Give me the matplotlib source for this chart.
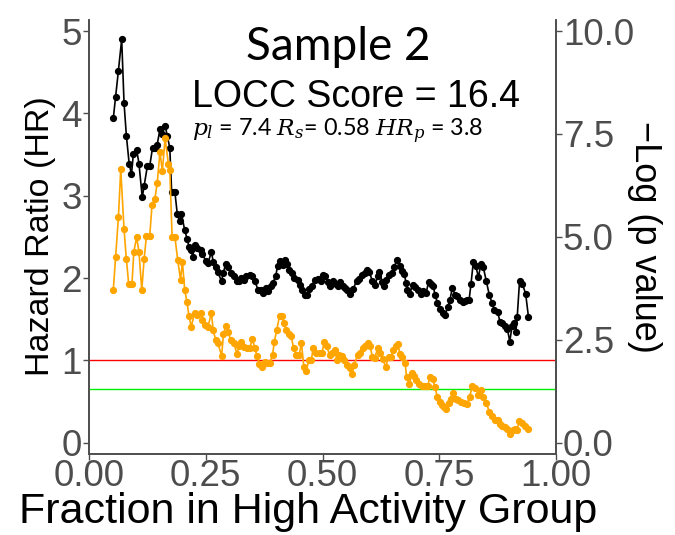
import numpy as np
import matplotlib
matplotlib.use("Agg")
import matplotlib.pyplot as plt

# hazard ratio along the cut-off (left axis)
hr_x = [0.052, 0.057, 0.063, 0.070, 0.075, 0.080, 0.086, 0.091, 0.095, 0.102,
        0.107, 0.114, 0.118, 0.125, 0.130, 0.136, 0.141, 0.146, 0.152, 0.157,
        0.163, 0.168, 0.173, 0.177, 0.184, 0.189, 0.194, 0.198, 0.205, 0.210,
        0.214, 0.219, 0.222, 0.226, 0.231, 0.239, 0.243, 0.250, 0.255, 0.262,
        0.266, 0.271, 0.276, 0.284, 0.287, 0.293, 0.298, 0.303, 0.310, 0.316,
        0.321, 0.326, 0.331, 0.337, 0.344, 0.350, 0.355, 0.362, 0.368, 0.372,
        0.378, 0.383, 0.389, 0.394, 0.400, 0.404, 0.410, 0.415, 0.419, 0.424,
        0.428, 0.435, 0.440, 0.447, 0.452, 0.457, 0.462, 0.467, 0.472, 0.478,
        0.483, 0.490, 0.497, 0.502, 0.506, 0.511, 0.516, 0.522, 0.528, 0.533,
        0.538, 0.543, 0.548, 0.552, 0.559, 0.566, 0.573, 0.579, 0.585, 0.590,
        0.595, 0.600, 0.607, 0.613, 0.618, 0.622, 0.628, 0.632, 0.637, 0.642,
        0.649, 0.654, 0.659, 0.665, 0.670, 0.675, 0.679, 0.682, 0.687, 0.693,
        0.699, 0.704, 0.711, 0.716, 0.722, 0.727, 0.732, 0.737, 0.741, 0.746,
        0.751, 0.757, 0.763, 0.768, 0.773, 0.778, 0.784, 0.789, 0.794, 0.800,
        0.805, 0.810, 0.814, 0.818, 0.823, 0.828, 0.834, 0.839, 0.844, 0.851,
        0.857, 0.863, 0.868, 0.875, 0.880, 0.885, 0.891, 0.896, 0.901, 0.906,
        0.910, 0.914, 0.917, 0.922, 0.928, 0.935, 0.941]
hr_y = [3.94, 4.20, 4.52, 4.90, 4.13, 3.73, 3.39, 3.26, 3.51, 3.56,
        3.39, 2.98, 3.12, 3.36, 3.36, 3.58, 3.58, 3.62, 3.81, 3.75,
        3.85, 3.72, 3.58, 3.04, 3.04, 2.78, 2.69, 2.78, 2.58, 2.48,
        2.38, 2.34, 2.26, 2.40, 2.36, 2.34, 2.29, 2.21, 2.18, 2.32,
        2.20, 2.14, 2.07, 1.96, 2.06, 2.17, 2.14, 2.06, 2.03, 1.97,
        1.96, 2.00, 1.98, 2.02, 2.04, 2.02, 1.96, 1.86, 1.86, 1.82,
        1.88, 1.84, 1.90, 1.94, 2.03, 2.15, 2.21, 2.16, 2.22, 2.17,
        2.10, 2.06, 2.00, 1.98, 1.92, 1.86, 1.80, 1.80, 1.87, 1.91,
        1.98, 1.99, 1.97, 2.04, 2.02, 1.95, 1.91, 1.97, 1.93, 1.90,
        1.95, 1.90, 1.88, 1.86, 1.81, 1.87, 1.97, 1.99, 2.04, 2.06,
        2.10, 2.08, 1.96, 1.92, 2.02, 2.07, 1.95, 1.90, 1.98, 2.04,
        2.06, 2.14, 2.22, 2.15, 2.09, 2.05, 1.94, 1.86, 1.81, 1.92,
        1.89, 1.85, 1.81, 1.84, 1.82, 1.95, 1.93, 1.90, 1.80, 1.70,
        1.62, 1.58, 1.55, 1.65, 1.74, 1.88, 1.80, 1.78, 1.74, 1.71,
        1.72, 1.74, 1.74, 1.93, 2.20, 2.15, 2.01, 2.17, 2.14, 1.96,
        1.80, 1.70, 1.61, 1.59, 1.47, 1.45, 1.42, 1.38, 1.23, 1.42,
        1.45, 1.34, 1.53, 1.97, 1.93, 1.81, 1.53]

# -log10(p) along the cut-off (right axis)
lp_x = [0.052, 0.057, 0.063, 0.068, 0.075, 0.080, 0.085, 0.092, 0.096, 0.102,
        0.107, 0.113, 0.118, 0.123, 0.130, 0.135, 0.141, 0.146, 0.152, 0.157,
        0.163, 0.170, 0.173, 0.178, 0.184, 0.190, 0.196, 0.200, 0.205, 0.210,
        0.214, 0.219, 0.226, 0.231, 0.239, 0.243, 0.248, 0.255, 0.262, 0.266,
        0.271, 0.276, 0.284, 0.288, 0.293, 0.298, 0.303, 0.310, 0.317, 0.321,
        0.326, 0.331, 0.338, 0.344, 0.350, 0.355, 0.360, 0.365, 0.371, 0.376,
        0.382, 0.387, 0.393, 0.397, 0.402, 0.408, 0.413, 0.417, 0.422, 0.428,
        0.433, 0.438, 0.444, 0.450, 0.455, 0.460, 0.465, 0.471, 0.476, 0.480,
        0.486, 0.494, 0.499, 0.504, 0.509, 0.515, 0.521, 0.526, 0.531, 0.536,
        0.542, 0.547, 0.552, 0.558, 0.563, 0.568, 0.575, 0.580, 0.586, 0.592,
        0.597, 0.602, 0.607, 0.612, 0.618, 0.623, 0.629, 0.635, 0.642, 0.647,
        0.652, 0.657, 0.661, 0.666, 0.670, 0.677, 0.680, 0.686, 0.692, 0.697,
        0.701, 0.707, 0.713, 0.719, 0.725, 0.730, 0.736, 0.741, 0.746, 0.751,
        0.756, 0.760, 0.764, 0.770, 0.775, 0.780, 0.786, 0.791, 0.796, 0.803,
        0.810, 0.815, 0.821, 0.827, 0.834, 0.839, 0.844, 0.851, 0.857, 0.863,
        0.870, 0.875, 0.880, 0.885, 0.891, 0.896, 0.901, 0.907, 0.912, 0.917,
        0.921, 0.927, 0.934, 0.941]
lp_y = [3.71, 4.52, 5.48, 6.64, 5.19, 4.46, 3.86, 3.86, 4.64, 4.99,
        4.64, 3.71, 4.46, 5.02, 5.02, 5.78, 5.92, 6.30, 7.07, 6.59,
        7.40, 6.77, 6.63, 4.99, 4.99, 4.44, 3.96, 4.40, 3.71, 3.41,
        3.08, 2.82, 3.15, 3.11, 3.15, 2.99, 2.86, 2.82, 3.16, 2.74,
        2.50, 2.42, 2.11, 2.65, 2.84, 2.70, 2.50, 2.42, 2.16, 2.34,
        2.46, 2.32, 2.30, 2.30, 2.52, 2.30, 2.10, 1.92, 1.85, 1.97,
        1.95, 1.93, 2.14, 2.46, 2.74, 3.08, 3.08, 2.90, 2.74, 2.65,
        2.60, 2.30, 2.14, 2.14, 2.42, 1.85, 1.75, 2.01, 2.01, 2.30,
        2.19, 2.19, 2.19, 2.46, 2.35, 2.14, 2.18, 2.26, 2.01, 2.14,
        2.11, 2.00, 1.90, 1.81, 1.67, 1.89, 2.14, 2.18, 2.30, 2.35,
        2.43, 2.34, 2.08, 2.06, 2.30, 2.18, 2.03, 1.85, 2.08, 2.08,
        2.26, 2.34, 2.40, 2.16, 2.08, 1.95, 1.59, 1.43, 1.69, 1.63,
        1.53, 1.43, 1.37, 1.38, 1.38, 1.59, 1.55, 1.35, 1.11, 0.98,
        0.92, 0.86, 0.82, 0.96, 1.06, 1.21, 1.06, 1.03, 0.98, 0.96,
        0.95, 1.12, 1.37, 1.33, 1.17, 1.29, 1.12, 0.96, 0.76, 0.64,
        0.56, 0.56, 0.46, 0.40, 0.38, 0.33, 0.22, 0.30, 0.33, 0.32,
        0.52, 0.49, 0.41, 0.33]

hr_ticks = [0, 1, 2, 3, 4, 5]
lp_ticks = [0.0, 2.5, 5.0, 7.5, 10.0]
x_ticks = [0.00, 0.25, 0.50, 0.75, 1.00]
hr_ref = 1.0
lp_ref = -np.log10(0.05)

plt.rcParams['font.family'] = ['Liberation Sans', 'DejaVu Sans']
axis_grey = '#4D4D4D'

fig = plt.figure(figsize=(6.75, 5.35), dpi=100)
ax = fig.add_axes([89 / 675, 81.5 / 535, 467 / 675, 434 / 535])
ax2 = ax.twinx()

ax.axhline(hr_ref, color='#FF0000', lw=1.0, zorder=1)
ax2.axhline(lp_ref, color='#00EE00', lw=1.0, zorder=1)

ax.plot(hr_x, hr_y, color='black', lw=1.2, marker='o', ms=4.2, zorder=3)
ax2.plot(lp_x, lp_y, color='#FFA500', lw=1.2, marker='o', ms=4.2, zorder=2)

# both scales share the same padding, the right one at twice the range
ax.set_xlim(0, 1)
ax.set_ylim(-0.13, 5.14)
ax2.set_ylim(-0.26, 10.28)
ax.set_xticks(x_ticks)
ax.set_xticklabels([f'{t:.2f}' for t in x_ticks])
ax.set_yticks(hr_ticks)
ax2.set_yticks(lp_ticks)
ax2.set_yticklabels([f'{t:.1f}' for t in lp_ticks])

for a in (ax, ax2):
    a.spines['top'].set_visible(False)
    for s in ('left', 'right', 'bottom'):
        a.spines[s].set_color(axis_grey)
        a.spines[s].set_linewidth(1.2)
    a.tick_params(colors=axis_grey, labelsize=26.5, width=1.0, length=4, pad=1)
    a.patch.set_visible(False)
ax.tick_params(axis='x', pad=0)

ax.set_ylabel('Hazard Ratio (HR)', fontsize=24.5, color='black', labelpad=4)
ax2.set_ylabel('\u2212Log (p value)', fontsize=26, color='black', rotation=270, labelpad=20)

fig.text(308 / 675, 1 - 512 / 535, 'Fraction in High Activity Group', fontsize=31,
         ha='center', va='center')
fig.text(338 / 675, 1 - 47 / 535, 'Sample 2', fontsize=33, family=['Lato', 'DejaVu Sans'],
         ha='center', va='center')
fig.text(356 / 675, 1 - 97 / 535, 'LOCC Score = 16.4', fontsize=27, ha='center', va='center')
fig.text(192 / 675, 1 - 131 / 535, r'$p_l$ = 7.4 $R_s$= 0.58 $HR_p$ = 3.8', fontsize=16.8,
         family=['Lato', 'DejaVu Sans'], math_fontfamily='dejavuserif',
         ha='left', va='center')

fig.savefig('out.png', dpi=100)
